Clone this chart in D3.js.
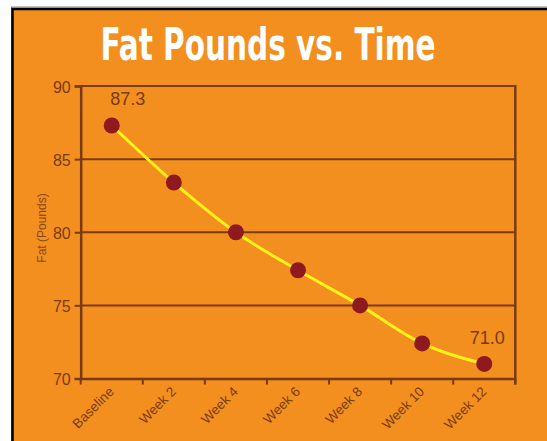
<!DOCTYPE html>
<html>
<head>
<meta charset="utf-8">
<script src="https://cdn.jsdelivr.net/npm/d3@7"></script>
<style>
  body { margin: 0; background: #fff; }
  svg { display: block; }
</style>
</head>
<body>
<div id="chart"></div>
<script>
// data
var weeks = ["Baseline", "Week 2", "Week 4", "Week 6", "Week 8", "Week 10", "Week 12"];
var fat = [87.3, 83.4, 80.0, 77.4, 75.0, 72.4, 71.0];
var yTicks = [70, 75, 80, 85, 90];
var labelled = ["Baseline", "Week 12"];

var W = 547, H = 441;
var brown = "#7b3b12";

var svg = d3.select("#chart").append("svg")
    .attr("width", W)
    .attr("height", H);

// orange panel with a black frame, running off the right and bottom
svg.append("rect")
    .attr("x", 11.5).attr("y", 7)
    .attr("width", 600).attr("height", 500)
    .attr("fill", "none")
    .attr("stroke", "#888").attr("stroke-width", 1);
svg.append("rect")
    .attr("x", 12.5).attr("y", 9)
    .attr("width", 600).attr("height", 500)
    .attr("fill", "#f28f1e")
    .attr("stroke", "#000").attr("stroke-width", 2.5);

// title: condensed, squeezed to the width seen in the picture
var title = svg.append("text")
    .attr("text-anchor", "middle")
    .style("font-family", "'Liberation Sans Narrow', 'DejaVu Sans Condensed', sans-serif")
    .style("font-weight", "bold")
    .style("font-size", "45px")
    .style("fill", "#fff")
    .text("Fat Pounds vs. Time");
var tw = title.node().getComputedTextLength();
title.attr("transform", "translate(268,60) scale(" + (335 / tw) + ",1)");

var x = d3.scaleBand().domain(weeks).range([80.7, 515.3]);
var y = d3.scaleLinear().domain([70, 90]).range([378.5, 86]);

var g = svg.append("g");

// grid lines
g.selectAll(".grid").data(yTicks.filter(function(d) { return d > 70; }))
  .enter().append("line")
    .attr("x1", x.range()[0]).attr("x2", x.range()[1])
    .attr("y1", function(d) { return y(d); })
    .attr("y2", function(d) { return y(d); })
    .attr("stroke", brown).attr("stroke-width", 2);

// right border
g.append("line")
    .attr("x1", x.range()[1]).attr("x2", x.range()[1])
    .attr("y1", y(90) - 1).attr("y2", y(70) + 6)
    .attr("stroke", brown).attr("stroke-width", 2.5);

// axes
var yAxis = g.append("g")
    .attr("transform", "translate(" + x.range()[0] + ",0)")
    .call(d3.axisLeft(y).tickValues(yTicks).tickSize(6).tickPadding(4));
var xAxis = g.append("g")
    .attr("transform", "translate(0," + y(70) + ")")
    .call(d3.axisBottom(x).tickSize(0).tickFormat(""));

[yAxis, xAxis].forEach(function(a) {
  a.select(".domain").attr("stroke", brown).attr("stroke-width", 2.5);
  a.selectAll(".tick line").attr("stroke", brown).attr("stroke-width", 2);
});
yAxis.selectAll(".tick text")
    .style("font-family", "'Liberation Sans', Arial, sans-serif")
    .style("font-size", "16px")
    .attr("dy", "0.4em")
    .style("fill", brown);

// x tick marks on band edges
var edges = weeks.map(function(w) { return x(w); }).concat([x.range()[1]]);
g.selectAll(".xt").data(edges).enter().append("line")
    .attr("x1", function(d) { return d; }).attr("x2", function(d) { return d; })
    .attr("y1", y(70)).attr("y2", y(70) + 6)
    .attr("stroke", brown).attr("stroke-width", 2);

// x labels, rotated
g.selectAll(".xl").data(weeks).enter().append("text")
    .attr("transform", function(d) {
      return "translate(" + (x(d) + x.bandwidth() / 2 + 3) + "," + (y(70) + 14) + ") rotate(-45)";
    })
    .attr("text-anchor", "end")
    .style("font-family", "'Liberation Sans', Arial, sans-serif")
    .style("font-size", "13.5px")
    .style("fill", brown)
    .text(function(d) { return d; });

// y title
svg.append("text")
    .attr("transform", "translate(46,228) rotate(-90)")
    .attr("text-anchor", "middle")
    .style("font-family", "'Liberation Sans', Arial, sans-serif")
    .style("font-size", "12px")
    .style("fill", "#8a4516")
    .text("Fat (Pounds)");

// line
var line = d3.line()
    .x(function(d, i) { return x(weeks[i]) + x.bandwidth() / 2; })
    .y(function(d) { return y(d); })
    .curve(d3.curveMonotoneX);

g.append("path")
    .datum(fat)
    .attr("d", line)
    .attr("fill", "none")
    .attr("stroke", "#fff21a")
    .attr("stroke-width", 3);

g.selectAll(".dot").data(fat).enter().append("circle")
    .attr("cx", function(d, i) { return x(weeks[i]) + x.bandwidth() / 2; })
    .attr("cy", function(d) { return y(d); })
    .attr("r", 8)
    .attr("fill", "#8e1a1f");

// value labels on first and last point
g.selectAll(".vl").data(fat.filter(function(d, i) { return labelled.indexOf(weeks[i]) >= 0; }))
  .enter().append("text")
    .attr("x", function(d, i) {
      var w = labelled[i];
      return x(w) + x.bandwidth() / 2 + (i === 0 ? 16 : 3);
    })
    .attr("y", function(d) { return y(d) - 20; })
    .attr("text-anchor", "middle")
    .style("font-family", "'Liberation Sans', Arial, sans-serif")
    .style("font-size", "18px")
    .style("fill", brown)
    .text(function(d) { return d.toFixed(1); });
</script>
</body>
</html>
